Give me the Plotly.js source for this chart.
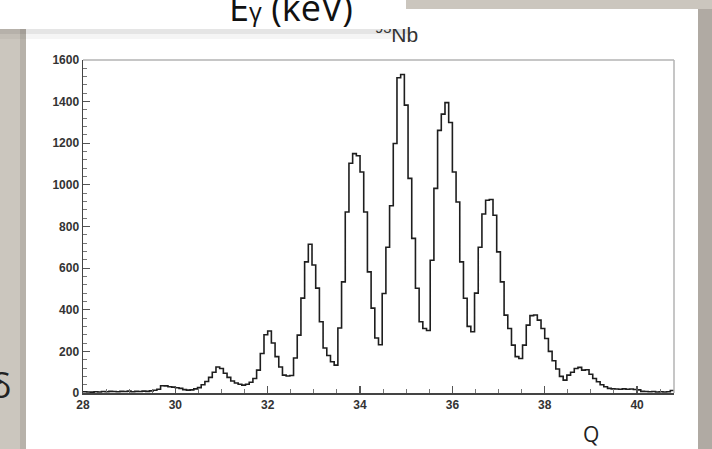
<!DOCTYPE html>
<html><head><meta charset="utf-8">
<script src="https://cdn.plot.ly/plotly-3.0.1.min.js"></script>
<style>html,body{margin:0;padding:0;background:#cbc6be;overflow:hidden}#chart{width:712px;height:449px}</style>
</head><body><div id="chart"></div>
<script>
// ---- data ----
const histXmin = 28;
const histXmax = 40.8;
const counts = [
  6,5,4,6,5,7,6,8,7,6, 8,7,9,6,8,7,9,8,10,13,
  18,35,34,30,28,25,22,16,14,15, 20,26,40,55,75,100,125,118,95,75,
  58,48,42,38,42,52,70,110,190,280, 298,240,175,125,86,82,84,168,278,456,
  630,715,615,504,342,216,180,150,134,312, 534,870,1104,1150,1140,1062,870,582,408,264,
  232,478,700,900,1199,1515,1530,1383,1031,743, 503,342,310,300,638,983,1262,1340,1395,1300,
  1062,918,630,455,320,294,480,700,860,926, 930,854,678,534,374,310,230,175,166,230,
  326,372,375,350,310,262,200,155,115,80, 62,86,100,118,123,110,112,90,70,54,
  40,30,22,20,19,18,20,18,19,17, 15,8,7,6,7,5,6,5,6,12
];
const xTickVals = [28,30,32,34,36,38,40];
const xTickText = ['28','30','32','34','36','38','40'];
const yTickVals = [0,200,400,600,800,1000,1200,1400,1600];
const yTickText = ['0','200','400','600','800','1000','1200','1400','1600'];
const titleText = '<sup>93</sup>Nb';
const xAxisLabel = 'Q';
const boxLabel = "E<span style='font-size:25px'>γ</span> (keV)";
const sideGlyph = 'δ';

// ---- layout geometry (pixels) ----
const W = 712, H = 449, L = 83, R = 674, T = 60, B = 393;
const px = v => (v - L) / (R - L);
const py = v => (B - v) / (B - T);

const binW = (histXmax - histXmin) / counts.length;
const edges = counts.map((_, i) => histXmin + i * binW);
edges.push(histXmax);
const yv = counts.concat([counts[counts.length - 1]]);

const trace = {
  type: 'scatter', mode: 'lines', x: edges, y: yv,
  line: {shape: 'hv', color: '#1e1e1e', width: 1.6},
  hoverinfo: 'skip', showlegend: false
};

const tickFont = {family: 'Liberation Sans, Arial, sans-serif', size: 12, color: '#333', weight: 'bold'};

const shapes = [
  {type:'rect', xref:'paper', yref:'paper', layer:'below', x0:px(26), x1:px(698), y0:py(460), y1:py(9), fillcolor:'#ffffff', line:{width:0}},
  {type:'rect', xref:'paper', yref:'paper', layer:'below', x0:px(20), x1:px(26), y0:py(460), y1:py(9), fillcolor:'rgba(80,75,70,0.16)', line:{width:0}},
  {type:'rect', xref:'paper', yref:'paper', layer:'below', x0:px(698), x1:px(713), y0:py(460), y1:py(9), fillcolor:'rgba(80,75,70,0.22)', line:{width:0}},
  {type:'rect', xref:'paper', yref:'paper', layer:'below', x0:px(-5), x1:px(410), y0:py(34), y1:py(29), fillcolor:'rgba(0,0,0,0.10)', line:{width:0}},
  {type:'rect', xref:'paper', yref:'paper', layer:'below', x0:px(-5), x1:px(412), y0:py(39), y1:py(34), fillcolor:'rgba(0,0,0,0.04)', line:{width:0}},
  {type:'line', xref:'paper', yref:'paper', layer:'above', x0:0, x1:1, y0:1, y1:1, line:{color:'#b3b3b3', width:1.5}},
  {type:'line', xref:'paper', yref:'paper', layer:'above', x0:1, x1:1, y0:0, y1:1, line:{color:'#b3b3b3', width:1.5}}
];

const annotations = [
  {text: titleText, xref:'paper', yref:'paper', x:px(396), y:py(33), xanchor:'center', yanchor:'middle', showarrow:false,
   font:{family:'Liberation Sans, Arial, sans-serif', size:21, color:'#333'}},
  {text: ' ', xref:'paper', yref:'paper', x:px(-10), y:py(-30), xanchor:'left', yanchor:'top', showarrow:false,
   width:416, height:59, bgcolor:'#ffffff', borderpad:0, borderwidth:0},
  {text: boxLabel, xref:'paper', yref:'paper', x:px(291), y:py(8), xanchor:'center', yanchor:'middle', showarrow:false,
   font:{family:'Open Sans, sans-serif', size:36, color:'#111'}},
  {text: xAxisLabel, xref:'paper', yref:'paper', x:px(591), y:py(434), xanchor:'center', yanchor:'middle', showarrow:false,
   font:{family:'Open Sans, sans-serif', size:21, color:'#222'}},
  {text: sideGlyph, xref:'paper', yref:'paper', x:px(1), y:py(385), xanchor:'center', yanchor:'middle', showarrow:false,
   font:{family:'Open Sans, sans-serif', size:34, color:'#222'}}
];

const layout = {
  width: W, height: H,
  margin: {l: L, r: W - R, t: T, b: H - B, pad: 0},
  paper_bgcolor: '#cbc6be', plot_bgcolor: 'rgba(0,0,0,0)',
  showlegend: false,
  xaxis: {
    range: [histXmin, histXmax], showgrid: false, zeroline: false,
    showline: true, linecolor: '#444', linewidth: 1.5,
    ticks: 'inside', ticklen: 7, tickwidth: 1.2, tickcolor: '#555',
    tickmode: 'array', tickvals: xTickVals, ticktext: xTickText, tickfont: tickFont,
    minor: {tickmode: 'linear', tick0: 28, dtick: 0.5, ticks: 'inside', ticklen: 4, tickcolor: '#777', tickwidth: 1},
    fixedrange: true
  },
  yaxis: {
    range: [0, 1600], showgrid: false, zeroline: false,
    showline: true, linecolor: '#444', linewidth: 1.5,
    ticks: 'inside', ticklen: 7, tickwidth: 1.2, tickcolor: '#555',
    tickmode: 'array', tickvals: yTickVals, ticktext: yTickText, tickfont: tickFont,
    minor: {tickmode: 'linear', tick0: 0, dtick: 40, ticks: 'inside', ticklen: 3.5, tickcolor: '#777', tickwidth: 1},
    fixedrange: true
  },
  shapes: shapes,
  annotations: annotations
};

Plotly.newPlot('chart', [trace], layout, {displayModeBar: false, staticPlot: true});
</script>
</body></html>
